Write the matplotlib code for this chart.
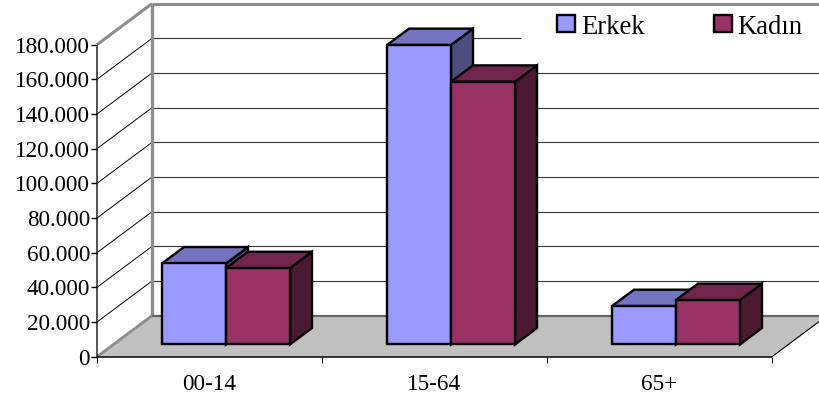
import matplotlib
matplotlib.use("Agg")
import matplotlib.pyplot as plt
from matplotlib.patches import Polygon

plt.rcParams['font.family'] = ['Liberation Serif', 'DejaVu Serif']

categories = ["00-14", "15-64", "65+"]
erkek = [46700, 172700, 22100]
kadin = [44000, 151500, 25600]
y_ticks = list(range(0, 180001, 20000))
y_tick_labels = ["0", "20.000", "40.000", "60.000", "80.000", "100.000",
                 "120.000", "140.000", "160.000", "180.000"]
series_names = ["Erkek", "Kadın"]

X0, Y0, CAT_W, PX_PER_V, DX, DY = 97.0, 356.7, 225.0, 34.67 / 20000, 55.0, 41.0
BAR_W = 64.0 / CAT_W
GRAY, FLOOR = "#8c8c8c", "#c0c0c0"
FRONT = ["#9999ff", "#993366"]
TOP = ["#7373bf", "#73264d"]
SIDE = ["#4d4d80", "#4d1a33"]


def proj(c, v, d=0.0):
    return (X0 + c * CAT_W + d * DX, Y0 - v * PX_PER_V - d * DY)


fig = plt.figure(figsize=(8.19, 3.99), dpi=100, facecolor="white")
ax = fig.add_axes([0, 0, 1, 1])
ax.set_xlim(0, 819)
ax.set_ylim(399, 0)
ax.axis("off")
n = len(categories)
vmax = y_ticks[-1]


def line(p, q, **kw):
    ax.plot([p[0], q[0]], [p[1], q[1]], solid_capstyle="butt", **kw)


# floor
ax.add_patch(Polygon([proj(0, 0), proj(n, 0), proj(n, 0, 1), proj(0, 0, 1)],
                     fc=FLOOR, ec="none", zorder=1))
# gridlines
for v in y_ticks[1:-1]:
    line(proj(0, v), proj(0, v, 1), color="black", lw=0.7, zorder=2)
    end = proj(n, v, 1)
    if v == y_ticks[-2]:
        end = (521, end[1])
    line(proj(0, v, 1), end, color="#333333", lw=0.8, zorder=2)
# wall outlines
line(proj(0, 0), proj(0, 0, 1), color=GRAY, lw=2, zorder=2)
line(proj(0, vmax), proj(0, vmax, 1), color=GRAY, lw=2.2, zorder=2)
line(proj(0, 0, 1), proj(0, vmax, 1), color=GRAY, lw=2.4, zorder=2)
line(proj(0, vmax, 1), proj(n, vmax, 1), color=GRAY, lw=2.2, zorder=2)
line(proj(0, 0, 1), proj(n, 0, 1), color="#666666", lw=1.6, zorder=2)
line(proj(n, 0), proj(n, 0, 1), color="black", lw=0.8, zorder=2)

# bars
for i in range(n):
    for s, vals in enumerate([erkek, kadin]):
        v = vals[i]
        a = i + 0.5 - BAR_W + s * BAR_W
        b = a + BAR_W
        kw = dict(ec="black", lw=1.7, joinstyle="miter", zorder=3 + s)
        ax.add_patch(Polygon([proj(b, 0, .3), proj(b, 0, .7), proj(b, v, .7), proj(b, v, .3)],
                             fc=SIDE[s], **kw))
        ax.add_patch(Polygon([proj(a, v, .3), proj(b, v, .3), proj(b, v, .7), proj(a, v, .7)],
                             fc=TOP[s], **kw))
        ax.add_patch(Polygon([proj(a, 0, .3), proj(b, 0, .3), proj(b, v, .3), proj(a, v, .3)],
                             fc=FRONT[s], **kw))

# front axes
line(proj(0, 0), proj(0, vmax), color="#222222", lw=1.1, zorder=6)
line(proj(0, 0), proj(n, 0), color="black", lw=1.1, zorder=6)
FS = 16.7
for v, lab in zip(y_ticks, y_tick_labels):
    x, y = proj(0, v)
    line((x - 6, y), (x, y), color="black", lw=1.0, zorder=6)
    ax.text(x - 7, y, lab, ha="right", va="center_baseline", fontsize=FS, color="black")
for c in range(n + 1):
    x, y = proj(c, 0)
    line((x, y), (x, y + 6), color="black", lw=0.8, zorder=6)
for c, lab in enumerate(categories):
    x, y = proj(c + .5, 0)
    ax.text(x, 382.5, lab, ha="center", va="center_baseline", fontsize=FS, color="black")

# legend
for s, (bx, tx) in enumerate([(557, 581.5), (714, 737)]):
    ax.add_patch(plt.Rectangle((bx, 15), 17.5, 16.5, fc=FRONT[s], ec="black", lw=1.7, zorder=7))
    ax.text(tx, 24, series_names[s], ha="left", va="center_baseline", fontsize=19.2, color="black", zorder=7)

fig.savefig("out.png", dpi=100)
